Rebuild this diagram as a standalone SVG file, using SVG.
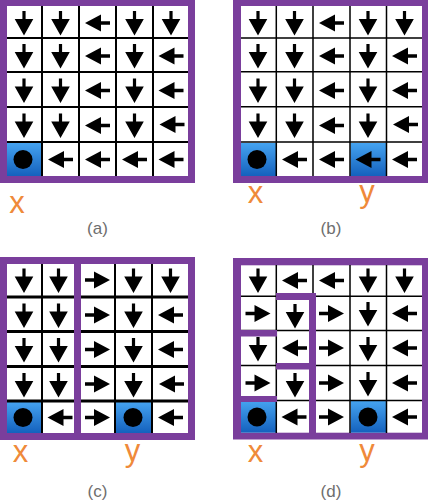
<svg xmlns="http://www.w3.org/2000/svg" xmlns:xlink="http://www.w3.org/1999/xlink" width="430" height="502" viewBox="0 0 430 502">
<style>
.frame{fill:#7a3e9c}
.inner{fill:#ffffff}
.ln{stroke:#000;fill:none}
.blue{fill:url(#bg)}
.lbl{font-family:"Liberation Sans",Arial,sans-serif;font-size:31px;fill:#ef8a3a;text-anchor:middle}
.cap{font-family:"Liberation Sans",Arial,sans-serif;font-size:17px;fill:#6e6e6e;text-anchor:middle}
</style>
<defs>
<linearGradient id="bg" x1="0" y1="0" x2="0" y2="1">
<stop offset="0" stop-color="#45a3f0"/>
<stop offset="1" stop-color="#1461bd"/>
</linearGradient>
<path id="dn" d="M-1.6,-12 H1.6 V-4 H9.3 L0,12.5 L-9.3,-4 H-1.6 Z" fill="#000"/>
<path id="lf" d="M12.5,-1.7 V1.7 H3.5 V8.5 L-12.5,0 L3.5,-8.5 V-1.7 Z" fill="#000"/>
<path id="rt" d="M-12.5,-1.7 V1.7 H-3.5 V8.5 L12.5,0 L-3.5,-8.5 V-1.7 Z" fill="#000"/>
<circle id="dot" r="9.5" fill="#000"/>
</defs>

<g id="panel-a">
<rect class="frame" x="0" y="0" width="195" height="183"/>
<rect class="inner" x="7" y="6" width="181" height="170"/>
<rect class="blue" x="7" y="143" width="34" height="33"/>
<g class="ln" stroke-width="2">
<path d="M42,6V176M79,6V176M116,6V176M153,6V176"/>
<path d="M7,38H188M7,72H188M7,107H188M7,142H188"/>
</g>
<g id="a-cells">
<use href="#dn" x="24" y="23"/><use href="#dn" x="60.5" y="23"/><use href="#lf" x="97.5" y="23"/><use href="#dn" x="134.5" y="23"/><use href="#dn" x="171" y="23"/>
<use href="#dn" x="24" y="56"/><use href="#dn" x="60.5" y="56"/><use href="#lf" x="97.5" y="56"/><use href="#dn" x="134.5" y="56"/><use href="#lf" x="171" y="56"/>
<use href="#dn" x="24" y="90.5"/><use href="#dn" x="60.5" y="90.5"/><use href="#lf" x="97.5" y="90.5"/><use href="#dn" x="134.5" y="90.5"/><use href="#lf" x="171" y="90.5"/>
<use href="#dn" x="24" y="125.5"/><use href="#dn" x="60.5" y="125.5"/><use href="#lf" x="97.5" y="125.5"/><use href="#dn" x="134.5" y="125.5"/><use href="#lf" x="172" y="124.5"/>
<use href="#dot" x="23" y="159.5"/><use href="#lf" x="60.5" y="159.5"/><use href="#lf" x="97.5" y="159.5"/><use href="#lf" x="134.5" y="159.5"/><use href="#lf" x="171" y="159.5"/>
</g>
<text class="lbl" x="17" y="213">x</text>
<text class="cap" x="97.5" y="233.5">(a)</text>
</g>

<g id="panel-b">
<rect class="frame" x="233" y="0" width="195" height="183"/>
<rect class="inner" x="241" y="6" width="181" height="170"/>
<rect class="blue" x="241" y="143" width="35" height="33"/>
<rect class="blue" x="350.5" y="143" width="35.5" height="33"/>
<g class="ln" stroke-width="1.5">
<path d="M276.3,6V176M313,6V176M350,6V176M386.5,6V176"/>
<path d="M241,38H422M241,71.7H422M241,106.7H422M241,142H422"/>
</g>
<g id="b-cells">
<use href="#dn" x="258" y="23"/><use href="#dn" x="294.5" y="23"/><use href="#lf" x="331.5" y="23"/><use href="#dn" x="368" y="23"/><use href="#dn" x="404.5" y="23"/>
<use href="#dn" x="258" y="56"/><use href="#dn" x="294.5" y="56"/><use href="#lf" x="331.5" y="56"/><use href="#dn" x="368" y="56"/><use href="#lf" x="404.5" y="56"/>
<use href="#dn" x="258" y="90.5"/><use href="#dn" x="294.5" y="90.5"/><use href="#lf" x="331.5" y="90.5"/><use href="#dn" x="368" y="90.5"/><use href="#lf" x="404.5" y="90.5"/>
<use href="#dn" x="258" y="125.5"/><use href="#dn" x="294.5" y="125.5"/><use href="#lf" x="331.5" y="125.5"/><use href="#dn" x="368" y="125.5"/><use href="#lf" x="405.5" y="124.5"/>
<use href="#dot" x="257" y="159.5"/><use href="#lf" x="294.5" y="159.5"/><use href="#lf" x="331.5" y="159.5"/><use href="#lf" x="368" y="159.5"/><use href="#lf" x="404.5" y="159.5"/>
</g>
<text class="lbl" x="255.5" y="203">x</text>
<text class="lbl" x="367" y="202">y</text>
<text class="cap" x="331" y="233.5">(b)</text>
</g>

<g id="panel-c">
<rect class="frame" x="0" y="257" width="195" height="183"/>
<rect class="inner" x="7" y="264" width="181" height="169"/>
<rect class="blue" x="7" y="402" width="34" height="31"/>
<rect class="blue" x="116" y="402" width="35" height="31"/>
<g class="ln">
<path stroke-width="2" d="M42,264V433M115,264V433M152,264V433"/>
<path stroke-width="3" d="M7,297H188M7,331.5H188M7,366.5H188M7,401H188"/>
</g>
<rect class="frame" x="74" y="257" width="7" height="183"/>
<g id="c-cells">
<use href="#dn" x="24" y="280.5"/><use href="#dn" x="58.5" y="280.5"/><use href="#rt" x="97.5" y="280"/><use href="#dn" x="133.5" y="280.5"/><use href="#dn" x="170.5" y="280.5"/>
<use href="#dn" x="24" y="315.5"/><use href="#dn" x="58.5" y="315.5"/><use href="#rt" x="97.5" y="315"/><use href="#dn" x="133.5" y="315.5"/><use href="#lf" x="170.5" y="315"/>
<use href="#dn" x="24" y="350"/><use href="#dn" x="58.5" y="350"/><use href="#rt" x="97.5" y="349.5"/><use href="#dn" x="133.5" y="350"/><use href="#lf" x="170.5" y="349.5"/>
<use href="#dn" x="24" y="385"/><use href="#dn" x="58.5" y="385"/><use href="#rt" x="97.5" y="384"/><use href="#dn" x="133.5" y="385"/><use href="#lf" x="171.5" y="384"/>
<use href="#dot" x="23" y="417.5"/><use href="#lf" x="60" y="417.5"/><use href="#rt" x="97.5" y="417.5"/><use href="#dot" x="133" y="417.5"/><use href="#lf" x="170.5" y="417.5"/>
</g>
<text class="lbl" x="20.5" y="462">x</text>
<text class="lbl" x="132.5" y="461">y</text>
<text class="cap" x="97.5" y="496.5">(c)</text>
</g>

<g id="panel-d">
<rect class="frame" x="233" y="258" width="195" height="181.5"/>
<rect class="inner" x="241" y="265.3" width="181" height="167.4"/>
<rect class="blue" x="241" y="401" width="35" height="31.7"/>
<rect class="blue" x="350.7" y="401" width="35.3" height="31.7"/>
<g class="ln" stroke-width="1.5">
<path d="M276.3,265V433M313,265V433M350,265V433M386.5,265V433"/>
<path d="M241,296.3H422M241,330.5H422M241,365.5H422M241,400.5H422"/>
</g>
<g id="d-walls">
<rect class="frame" x="276" y="293" width="40" height="7"/>
<rect class="frame" x="309" y="293" width="7" height="140"/>
<rect class="frame" x="241" y="330" width="36" height="6.5"/>
<rect class="frame" x="276" y="363" width="34" height="6.5"/>
<rect class="frame" x="241" y="396" width="36" height="6"/>
</g>
<g id="d-cells">
<use href="#dn" x="258" y="280.5"/><use href="#lf" x="294.5" y="280.5"/><use href="#lf" x="331.5" y="280.5"/><use href="#dn" x="368" y="280.5"/><use href="#dn" x="404.5" y="280.5"/>
<use href="#rt" x="258" y="313.5"/><use href="#dn" x="295" y="316"/><use href="#rt" x="331.5" y="313.5"/><use href="#dn" x="368" y="314"/><use href="#lf" x="404.5" y="313.5"/>
<use href="#dn" x="258" y="349"/><use href="#lf" x="294.5" y="348"/><use href="#rt" x="331.5" y="348"/><use href="#dn" x="368" y="349"/><use href="#lf" x="404.5" y="348"/>
<use href="#rt" x="258" y="383"/><use href="#dn" x="295" y="385"/><use href="#rt" x="331.5" y="383"/><use href="#dn" x="368" y="384"/><use href="#lf" x="404.5" y="383"/>
<use href="#dot" x="257" y="417"/><use href="#lf" x="294" y="417"/><use href="#rt" x="331.5" y="417"/><use href="#dot" x="368" y="417"/><use href="#lf" x="404.5" y="417"/>
</g>
<text class="lbl" x="255.5" y="462">x</text>
<text class="lbl" x="367" y="461">y</text>
<text class="cap" x="331" y="496.5">(d)</text>
</g>
</svg>
